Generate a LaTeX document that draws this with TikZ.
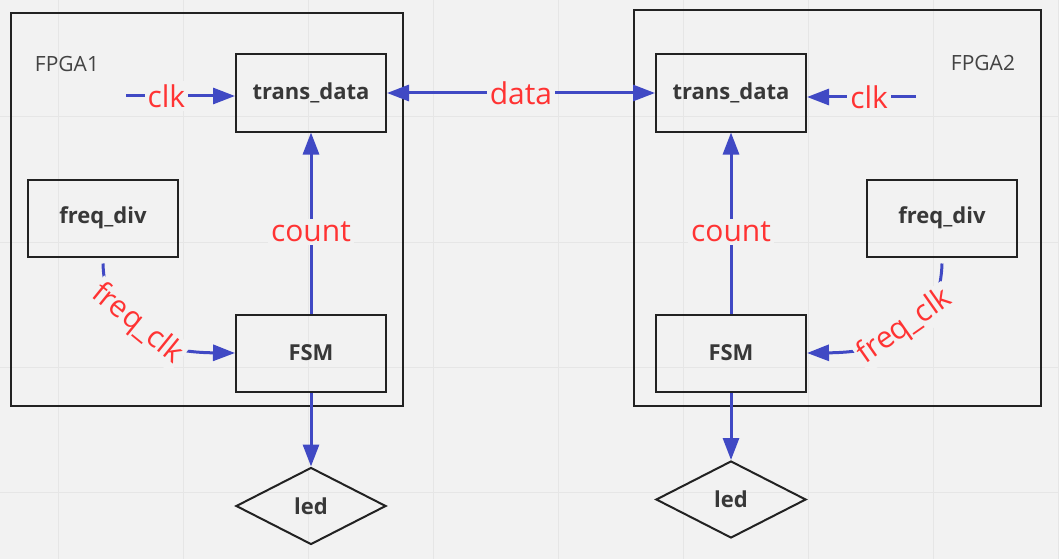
\documentclass[tikz,border=0pt]{standalone}
\usepackage{fontspec}
\setmainfont{Open Sans}
\usetikzlibrary{arrows.meta,shapes.geometric}
\definecolor{bg}{HTML}{F2F2F2}
\definecolor{gridc}{HTML}{E6E6E6}
\definecolor{wire}{HTML}{4049C4}
\definecolor{lbl}{HTML}{FF3333}
\definecolor{ink}{HTML}{222222}
\tikzset{
  block/.style={draw=ink, line width=2pt, minimum width=150pt, minimum height=77pt, inner sep=0pt,
    font=\bfseries\fontsize{22}{26}\selectfont, text=ink!90},
  fpga/.style={draw=ink, line width=2pt, inner sep=0pt},
  leddia/.style={diamond, draw=ink, line width=2pt, minimum width=150pt, minimum height=77pt, inner sep=0pt, aspect=2,
    font=\bfseries\fontsize{22}{26}\selectfont, text=ink!90},
  wirestyle/.style={draw=wire, line width=3pt, -{Triangle[length=22pt,width=16pt]}},
  wirelbl/.style={fill=bg, text=lbl, inner sep=3pt, font=\fontsize{30}{34}\selectfont},
  chiplbl/.style={text=ink!85, font=\fontsize{21}{25}\selectfont}
}
\begin{document}
\begin{tikzpicture}[x=1pt,y=-1pt]
\fill[bg] (0,0) rectangle (1059,559);
\useasboundingbox (0,0) rectangle (1059,559);
\foreach \gx in {58,183,308,433,558,683,808,933,1058} \draw[gridc, line width=1pt] (\gx,0) -- (\gx,559);
\foreach \gy in {117,242,367,492} \draw[gridc, line width=1pt] (0,\gy) -- (1059,\gy);

% FPGA frames
\node[fpga, minimum width=392pt, minimum height=393pt] (fpga1) at (207,209.5) {};
\node[fpga, minimum width=407pt, minimum height=396pt] (fpga2) at (837.5,208) {};
\node[chiplbl] (f1lbl) at (67,64) {FPGA1};
\node[chiplbl] (f2lbl) at (983,63) {FPGA2};

% blocks
\node[block] (td1) at (311,93) {trans\_data};
\node[block] (td2) at (731,93) {trans\_data};
\node[block] (fd1) at (103,218) {freq\_div};
\node[block] (fd2) at (942,218) {freq\_div};
\node[block] (fsm1) at (311,353) {FSM};
\node[block] (fsm2) at (731,353) {FSM};
\node[leddia] (led1) at (311,506) {led};
\node[leddia] (led2) at (731,499.5) {led};

% free ends
\coordinate (clk1) at (126,96);
\coordinate (clk2) at (916,97);

% connectors
\draw[wirestyle] (clk1) -- (td1.west |- clk1) node[wirelbl, pos=0.37] {clk};
\draw[wirestyle] (clk2) -- (td2.east |- clk2) node[wirelbl, pos=0.43] {clk};
\draw[wirestyle, {Triangle[length=22pt,width=16pt]}-{Triangle[length=22pt,width=16pt]}] (td1.east) -- (td2.west) node[wirelbl, midway] {data};
\draw[wirestyle] (fsm1.north) -- (td1.south) node[wirelbl, pos=0.45] {count};
\draw[wirestyle] (fsm2.north) -- (td2.south) node[wirelbl, pos=0.45] {count};
\draw[wirestyle] (fsm1.south) -- (led1.north);
\draw[wirestyle] (fsm2.south) -- (led2.north);
\draw[wirestyle] ([yshift=-6pt]fd1.south) .. controls (104,300) and (120,352) .. (fsm1.west);
\draw[wirestyle] ([yshift=-6pt]fd2.south) .. controls (941,300) and (925,352) .. (fsm2.east);
\node[wirelbl, rotate=-39, inner sep=2pt] (fc1) at (137,324) {freq\_clk};
\node[wirelbl, rotate=35, inner sep=2pt] (fc2) at (905,327) {freq\_clk};
\end{tikzpicture}
\end{document}
